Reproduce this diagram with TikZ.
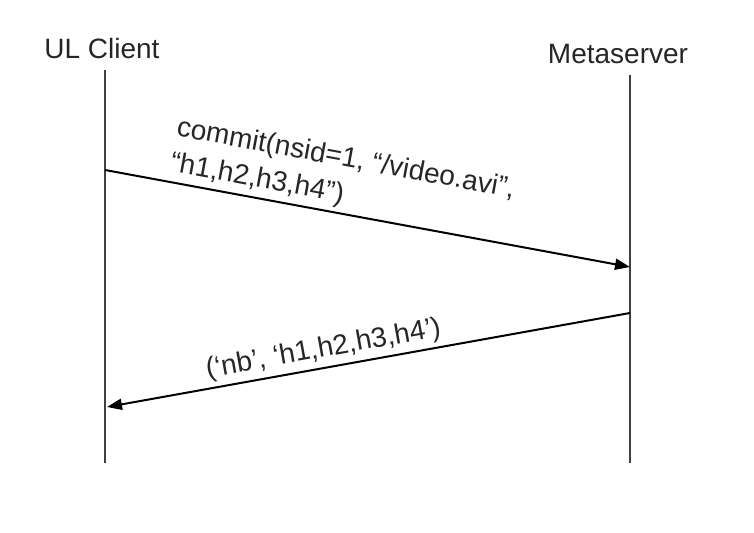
\documentclass[tikz,border=0pt]{standalone}
\usepackage{fontspec}
\setmainfont{Liberation Sans}
\usetikzlibrary{arrows.meta, positioning}

\begin{document}
\begin{tikzpicture}[x=0.5pt, y=-0.5pt,
    actor/.style={font=\fontsize{14}{16}\selectfont, text=black!85, inner sep=1pt},
    lifeline/.style={draw=black!75, line width=1pt},
    msg/.style={draw=black, line width=1pt, -{Triangle[length=7.5pt, width=5.5pt]}},
    msglabel/.style={font=\fontsize{14}{18}\selectfont, text=black!85, align=left, sloped, above, inner sep=2pt}
]
    \useasboundingbox (0,0) rectangle (754,533);

    % participants
    \node (client) [actor] at (102,48) {UL Client};
    \node (meta) [actor] at (618,54) {Metaserver};

    \coordinate (clienttop) at (105,70);
    \coordinate (clientbot) at (105,463);
    \coordinate (metatop) at (630,75);
    \coordinate (metabot) at (630,463);

    \path [lifeline] (clienttop) -- (clientbot);
    \path [lifeline] (metatop) -- (metabot);

    % messages
    \coordinate (req1) at (105,170);
    \coordinate (req2) at (630,267);
    \coordinate (rep1) at (630,313);
    \coordinate (rep2) at (107,407);

    \path [msg] (req1) -- node [msglabel, pos=0.44] {commit(nsid=1, “/video.avi”,\\“h1,h2,h3,h4”)} (req2);
    \path [msg] (rep1) -- node [msglabel, pos=0.58] {(‘nb’, ‘h1,h2,h3,h4’)} (rep2);
\end{tikzpicture}
\end{document}
